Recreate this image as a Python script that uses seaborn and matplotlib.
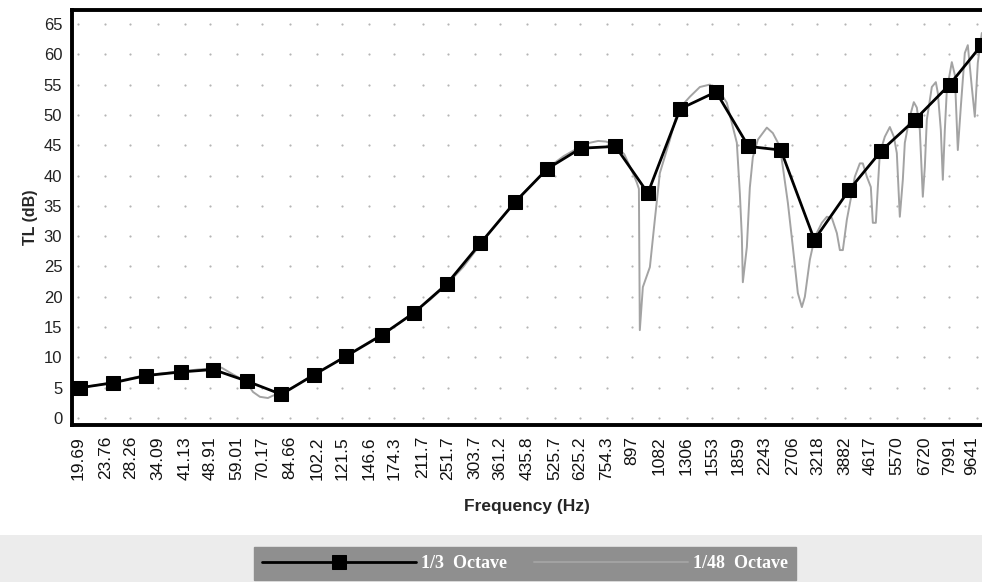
import numpy as np
import pandas as pd
import matplotlib
matplotlib.use("Agg")
import matplotlib.pyplot as plt
import matplotlib.transforms as mtransforms
from matplotlib.patches import Rectangle
from matplotlib.ticker import NullLocator
import seaborn as sns

# ---------------- data ----------------
tick_freqs = [19.69, 23.76, 28.26, 34.09, 41.13, 48.91, 59.01, 70.17, 84.66, 102.2,
              121.5, 146.6, 174.3, 211.7, 251.7, 303.7, 361.2, 435.8, 525.7, 625.2,
              754.3, 897, 1082, 1306, 1553, 1859, 2243, 2706, 3218, 3882, 4617,
              5570, 6720, 7991, 9641]
tick_labels = ["19.69", "23.76", "28.26", "34.09", "41.13", "48.91", "59.01", "70.17",
               "84.66", "102.2", "121.5", "146.6", "174.3", "211.7", "251.7", "303.7",
               "361.2", "435.8", "525.7", "625.2", "754.3", "897", "1082", "1306",
               "1553", "1859", "2243", "2706", "3218", "3882", "4617", "5570", "6720",
               "7991", "9641"]

third_freq = [20, 25, 31.5, 40, 50, 63, 80, 100, 125, 160, 200, 250, 315, 400, 500,
              630, 800, 1000, 1250, 1600, 2000, 2500, 3150, 4000, 5000, 6300, 8000, 10000]
third_tl = [5.0, 5.8, 7.0, 7.6, 8.0, 6.1, 3.9, 7.1, 10.2, 13.7, 17.4, 22.1, 28.8, 35.6,
            41.1, 44.5, 44.8, 37.1, 51.0, 53.8, 44.8, 44.2, 29.4, 37.6, 44.1, 49.2,
            55.0, 61.6]

fine_freq = [19.69, 22.4, 25, 28, 31.5, 35.5, 40, 45, 50, 53, 57.3, 60, 63, 65.8, 69,
             72.9, 75.5, 80, 90, 100, 112, 125, 140, 160, 180, 200, 224, 250, 280, 315,
             355, 400, 450, 500, 560, 630, 670, 710, 750, 800, 850, 900, 927, 940, 946,
             966, 1014, 1049, 1086, 1164, 1230, 1336, 1431, 1533, 1642, 1723, 1796,
             1846, 1885, 1911, 1924, 1978, 2019, 2061, 2133, 2270, 2366, 2483, 2535,
             2624, 2716, 2811, 2890, 2950, 3053, 3161, 3317, 3433, 3553, 3678, 3755,
             3833, 3940, 4078, 4163, 4309, 4399, 4522, 4648, 4713, 4811, 4878, 4946,
             5119, 5299, 5447, 5560, 5676, 5795, 5875, 6081, 6251, 6382, 6515, 6651,
             6743, 6837, 7077, 7275, 7376, 7530, 7634, 7740, 7848, 8122, 8292, 8465,
             8641, 8883, 9068, 9321, 9517, 9715, 9987]
fine_tl = [5.0, 5.4, 5.9, 6.5, 7.1, 7.4, 7.7, 8.0, 8.2, 8.3, 7.2, 6.6, 5.8, 4.3, 3.5,
           3.3, 3.7, 4.1, 5.6, 7.2, 8.7, 10.3, 11.9, 13.8, 15.6, 17.5, 19.6, 22.0, 24.9,
           28.6, 32.3, 35.7, 38.6, 41.2, 43.2, 44.8, 45.4, 45.7, 45.6, 44.9, 43.5, 40.5,
           38.8, 37.8, 14.5, 21.6, 24.9, 32.7, 40.4, 45.9, 50.8, 53.0, 54.6, 55.0, 53.8,
           52.0, 48.0, 45.4, 37.0, 29.9, 22.4, 28.2, 38.0, 43.0, 45.9, 47.9, 47.0, 44.8,
           41.4, 35.5, 28.2, 20.6, 18.3, 20.0, 26.1, 29.9, 32.2, 33.2, 33.0, 30.5, 27.7,
           27.7, 32.7, 37.1, 39.8, 42.0, 42.0, 39.8, 38.1, 32.2, 32.2, 38.1, 43.7, 46.4,
           48.0, 46.4, 43.7, 33.2, 39.3, 45.4, 49.7, 52.1, 51.2, 47.5, 36.5, 41.4, 49.2,
           54.6, 55.4, 53.6, 47.5, 39.3, 47.5, 54.1, 58.7, 56.6, 44.2, 51.3, 60.2, 61.5,
           54.6, 49.7, 58.6, 63.5]

y_ticks = list(range(0, 70, 5))

# ---------------- style ----------------
sns.set_style("white")
plt.rcParams["font.family"] = ["Liberation Sans", "DejaVu Sans"]

fig = plt.figure(figsize=(9.82, 5.82), dpi=100)
fig.patch.set_facecolor("white")

# bottom textured strip
fig.patches.append(Rectangle((0, 0), 1, 47 / 582, transform=fig.transFigure,
                             facecolor="#ececec", edgecolor="none", zorder=0))

ax = fig.add_axes([72 / 982, 157 / 582, 1 - 72 / 982, 415 / 582])

df_fine = pd.DataFrame({"f": fine_freq, "tl": fine_tl})
df_third = pd.DataFrame({"f": third_freq, "tl": third_tl})

# dotted grid at tick intersections
gx, gy = np.meshgrid(tick_freqs, y_ticks)
ax.scatter(gx.ravel(), gy.ravel(), s=2.5, color="#b5b5b5", zorder=0, linewidths=0)

sns.lineplot(data=df_fine, x="f", y="tl", ax=ax, color="#a3a3a3", linewidth=1.4,
             estimator=None, sort=False, label="1/48  Octave", zorder=2)
sns.lineplot(data=df_third, x="f", y="tl", ax=ax, color="black", linewidth=2.0,
             marker="s", markersize=10, markeredgecolor="black", markerfacecolor="black",
             estimator=None, sort=False, label="1/3  Octave", zorder=3)

ax.set_xscale("log")
ax.set_xlim(18.9, 10000)
ax.set_ylim(-1.15, 67.3)
ax.set_xticks(tick_freqs)
ax.set_xticklabels(tick_labels, rotation=90, fontsize=12.5)
ax.xaxis.set_minor_locator(NullLocator())
ax.set_yticks(y_ticks)
ax.set_yticklabels([str(v) for v in y_ticks], fontsize=12, color="#222222")
ax.tick_params(axis="x", length=5, width=0.8, color="#888888", pad=3, colors="#111111")
ax.tick_params(axis="y", length=0, pad=7)

# keep the last tick label inside the figure edge
last = ax.get_xticklabels()[-1]
last.set_transform(last.get_transform() +
                   mtransforms.ScaledTranslation(-5 / 100, 0, fig.dpi_scale_trans))

for side in ["left", "top", "bottom"]:
    ax.spines[side].set_color("black")
    ax.spines[side].set_linewidth(2.8)
ax.spines["right"].set_visible(False)

ax.set_xlabel("Frequency (Hz)", fontsize=12.5, fontweight="bold", labelpad=14)
ax.set_ylabel("TL (dB)", fontsize=11.5, fontweight="bold", labelpad=4)

handles, labels = ax.get_legend_handles_labels()
ax.get_legend().remove()
order = [1, 0]
leg = fig.legend([handles[i] for i in order], [labels[i] for i in order],
                 loc="lower center", bbox_to_anchor=(0.535, -0.012), ncol=2,
                 frameon=True, fancybox=False, facecolor="#8f8f8f", edgecolor="#8f8f8f",
                 handlelength=8.5, columnspacing=1.5, handletextpad=0.3,
                 borderpad=0.45, framealpha=1,
                 prop={"family": "Liberation Serif", "weight": "bold", "size": 13})
for t in leg.get_texts():
    t.set_color("white")

fig.savefig("out.png", dpi=100)
